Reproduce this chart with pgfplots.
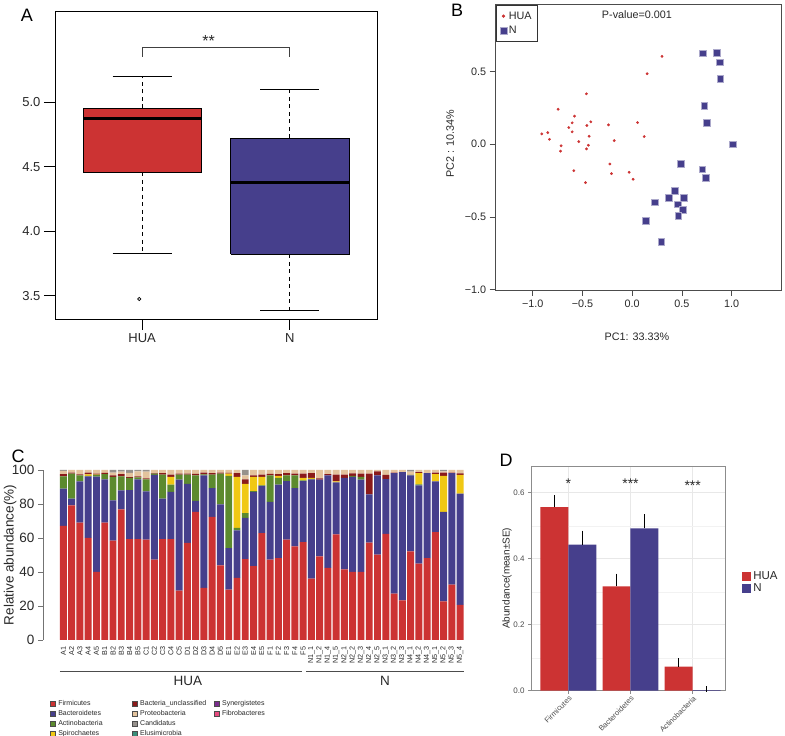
\documentclass[border=0pt]{standalone}
\usepackage{pgfplots}
\pgfplotsset{compat=1.18}
\usepackage{pgfplotstable}
\usepackage{fontspec}
\setmainfont{Liberation Sans}
\definecolor{cred}{RGB}{204,51,51}
\definecolor{cblue}{RGB}{70,63,140}
\definecolor{cgreen}{RGB}{92,138,46}
\definecolor{cyellow}{RGB}{240,200,20}
\definecolor{cdred}{RGB}{139,26,26}
\definecolor{ctan}{RGB}{227,195,157}
\definecolor{cgray}{RGB}{150,145,140}
\definecolor{cteal}{RGB}{58,143,122}
\definecolor{cpurple}{RGB}{123,45,142}
\definecolor{cpink}{RGB}{232,74,127}
\definecolor{txt}{RGB}{40,40,40}

\pgfplotstableread{
i F B A S U P C E Y Fi
0 67.1 21.9 7.3 0 1.2 2.0 0.5 0 0 0
1 79.2 3.9 14.7 0 0.7 1.5 0 0 0 0
2 69.0 24.3 3.6 0 0.5 2.6 0 0 0 0
3 60.0 36.3 0.3 0.8 1.0 1.6 0 0 0 0
4 40.0 56.1 1.0 0.2 0.5 2.2 0 0 0 0
5 69.0 25.5 3.0 0 0.8 1.7 0 0 0 0
6 58.4 23.8 13.7 0 1.0 1.6 1.5 0 0 0
7 76.9 11.1 8.3 0 1.2 1.5 1.0 0 0 0
8 59.4 28.8 7.1 0 0.5 2.5 1.7 0 0 0
9 59.4 35.1 1.2 0 0.5 3.0 0.8 0 0 0
10 59.0 28.4 7.1 0 0.5 4.0 1.0 0 0 0
11 47.3 49.9 0.6 0 0.3 1.9 0 0 0 0
12 59.4 23.7 14.2 0 0.8 1.9 0 0 0 0
13 59.4 27.7 4.3 4.5 1.4 2.7 0 0 0 0
14 29.0 65.3 3.0 0 0.5 2.2 0 0 0 0
15 57.1 34.8 5.4 0 0.5 2.2 0 0 0 0
16 75.3 6.5 15.1 0 0.8 2.3 0 0 0 0
17 30.6 66.3 0.5 0 1.1 1.5 0 0 0 0
18 72.4 17.0 7.9 0 0.9 1.8 0 0 0 0
19 43.9 35.9 18.0 0 0.7 1.5 0 0 0 0
20 29.6 24.5 42.4 1.3 0.5 1.7 0 0 0 0
21 36.5 28.0 1.4 30.0 2.3 1.8 0 0 0 0
22 47.5 24.4 2.8 17.2 2.6 2.4 3.1 0 0 0
23 43.5 43.6 0.5 8.3 1.0 3.1 0 0 0 0
24 62.9 27.7 0.4 4.9 1.4 2.7 0 0 0 0
25 47.3 33.9 15.7 0 0.8 2.3 0 0 0 0
26 48.2 43.2 3.9 1.2 1.0 2.5 0 0 0 0
27 59.0 34.5 3.4 0 1.3 1.8 0 0 0 0
28 55.1 34.3 7.5 0 1.0 2.1 0 0 0 0
29 57.6 35.9 0.4 1.4 2.5 2.2 0 0 0 0
30 36.1 58.4 0.3 0.5 2.9 1.8 0 0 0 0
31 49.2 45.1 0 0 0.7 5.0 0 0 0 0
32 42.4 54.5 0 0 0.6 2.5 0 0 0 0
33 62.2 30.5 0 0.6 4.0 2.7 0 0 0 0
34 41.6 53.7 0 0 2.0 2.7 0 0 0 0
35 40.0 55.9 0.6 0 1.5 2.0 0 0 0 0
36 40.0 54.3 1.6 0 1.9 2.2 0 0 0 0
37 57.3 28.4 0 0 12.1 2.2 0 0 0 0
38 50.2 46.7 0 0 2.3 0.8 0 0 0 0
39 62.4 32.3 0 0 2.4 2.9 0 0 0 0
40 27.3 70.9 0 0 0.3 1.5 0 0 0 0
41 23.3 75.5 0 0 0 1.2 0 0 0 0
42 52.2 44.7 0.3 0 0 1.8 1.0 0 0 0
43 44.9 46.1 0.6 6.6 0.6 1.2 0 0 0 0
44 48.2 50.0 0 0 0 1.8 0 0 0 0
45 63.5 29.8 0 4.2 1.0 1.5 0 0 0 0
46 22.7 52.6 0 21.2 1.9 0.8 0.8 0 0 0
47 32.5 65.7 0 0 0.3 1.5 0 0 0 0
48 20.6 65.5 0 11.0 0.9 2.0 0 0 0 0
}\abund

\begin{document}
\begin{tikzpicture}
\useasboundingbox (0pt,0pt) rectangle (785pt,736pt);

% ---------------- Panel A ----------------
\begin{axis}[at={(55pt,417pt)}, anchor=south west, scale only axis,
  width=322pt, height=308pt,
  xmin=0.41, xmax=2.59, ymin=3.32, ymax=5.705,
  xtick={1,2}, xticklabels={HUA,N},
  ytick={3.5,4,4.5,5}, yticklabels={3.5,4.0,4.5,5.0},
  tick pos=left, tick align=outside, major tick length=11pt,
  tick style={black, line width=0.8pt},
  axis line style={black, line width=0.8pt},
  tick label style={font=\fontsize{13}{15}\selectfont, text=txt},
  /pgf/number format/assume math mode=true,
  clip=false]
% whiskers (dashed)
\addplot[black, line width=0.8pt, dash pattern=on 4pt off 3.5pt] coordinates {(1,4.95) (1,5.2)};
\addplot[black, line width=0.8pt, dash pattern=on 4pt off 3.5pt] coordinates {(1,4.455) (1,3.83)};
\addplot[black, line width=0.8pt, dash pattern=on 4pt off 3.5pt] coordinates {(2,4.72) (2,5.10)};
\addplot[black, line width=0.8pt, dash pattern=on 4pt off 3.5pt] coordinates {(2,3.82) (2,3.39)};
% caps
\addplot[black, line width=0.8pt] coordinates {(0.8,5.2) (1.2,5.2)};
\addplot[black, line width=0.8pt] coordinates {(0.8,3.83) (1.2,3.83)};
\addplot[black, line width=0.8pt] coordinates {(1.8,5.10) (2.2,5.10)};
\addplot[black, line width=0.8pt] coordinates {(1.8,3.39) (2.2,3.39)};
% boxes (quartiles)
\addplot[fill=cred, draw=black, line width=0.8pt, line join=miter] coordinates {(0.6,4.455) (1.4,4.455) (1.4,4.95) (0.6,4.95) (0.6,4.455)};
\addplot[fill=cblue, draw=black, line width=0.8pt, line join=miter] coordinates {(1.6,3.82) (2.4,3.82) (2.4,4.72) (1.6,4.72) (1.6,3.82)};
% medians
\addplot[black, line width=3pt] coordinates {(0.6,4.87) (1.4,4.87)};
\addplot[black, line width=3pt] coordinates {(1.6,4.38) (2.4,4.38)};
% outlier
\addplot[only marks, mark=o, mark size=1.6pt, mark options={black, line width=0.7pt}] coordinates {(0.98,3.475)};
% significance bracket
\addplot[black!75, line width=0.8pt] coordinates {(1,5.35) (1,5.42) (2,5.42) (2,5.35)};
\node[font=\fontsize{16}{18}\selectfont, text=txt] at (axis cs:1.45,5.47) {**};
\end{axis}

% ---------------- Panel B ----------------
\begin{axis}[at={(495.7pt,446pt)}, anchor=south west, scale only axis,
  width=285.3pt, height=285.3pt,
  xmin=-1.373, xmax=1.497, ymin=-1.003, ymax=0.96,
  xtick={-1,-0.5,0,0.5,1}, xticklabels={−1.0,−0.5,0.0,0.5,1.0},
  ytick={-1,-0.5,0,0.5}, yticklabels={−1.0,−0.5,0.0,0.5},
  tick pos=left, tick align=outside, major tick length=6pt,
  tick style={black!70, line width=0.6pt},
  axis line style={black!70, line width=0.8pt},
  tick label style={font=\fontsize{10.8}{12}\selectfont, text=txt},
  /pgf/number format/assume math mode=true,
  xlabel={PC1: 33.33\%}, ylabel={PC2 :  10.34\%},
  label style={font=\fontsize{10.8}{12}\selectfont, text=txt},
  xlabel style={at={(axis description cs:0.495,-0.165)}, anchor=center},
  ylabel style={at={(axis description cs:-0.16,0.512)}, anchor=center},
  legend style={at={(axis description cs:0,1)}, anchor=north west, draw=black!80,
    line width=0.8pt, font=\fontsize{10.8}{12}\selectfont, text=txt,
    inner xsep=4pt, inner ysep=4.5pt, row sep=1.5pt, cells={anchor=west}},
  legend cell align=left]
\addplot[only marks, mark=*, mark size=1.2pt, color=cred] coordinates {
(0.30,0.605) (0.151,0.485) (-0.46,0.347) (-0.745,0.241) (-0.58,0.193)
(-0.604,0.147) (-0.638,0.115) (-0.416,0.154) (-0.456,0.129) (-0.604,0.085)
(-0.909,0.071) (-0.849,0.080) (-0.832,0.034) (-0.433,0.055) (-0.537,0.018)
(-0.44,-0.007) (-0.46,-0.032) (-0.715,-0.011) (-0.721,-0.048) (-0.238,0.133)
(-0.181,0.025) (0.054,0.149) (0.121,0.053) (-0.225,-0.136) (-0.208,-0.202)
(-0.03,-0.193) (0.01,-0.241) (-0.587,-0.182) (-0.47,-0.264)};
\addlegendentry{HUA}
\addplot[only marks, mark=square*, mark size=3.4pt, mark options={fill=cblue, draw=cblue!45, line width=0.6pt}] coordinates {
(0.711,0.625) (0.849,0.628) (0.883,0.563) (0.886,0.451) (0.725,0.267)
(0.748,0.147) (1.01,0.0) (0.487,-0.133) (0.705,-0.172) (0.742,-0.23)
(0.426,-0.322) (0.369,-0.368) (0.523,-0.368) (0.456,-0.414) (0.510,-0.451)
(0.463,-0.494) (0.225,-0.4) (0.134,-0.529) (0.292,-0.674)};
\addlegendentry{N}
\node[font=\fontsize{10.8}{12}\selectfont, text=txt] at (axis description cs:0.495,0.966) {P-value=0.001};
\end{axis}

% ---------------- Panel C ----------------
\begin{axis}[at={(43pt,96pt)}, anchor=south west, scale only axis,
  width=421.3pt, height=170pt,
  ybar stacked, bar width=0.84,
  xmin=-2.47, xmax=48.5, ymin=0, ymax=100,
  axis y line*=left, axis x line*=bottom,
  axis line style={-}, x axis line style={draw=none},
  y axis line style={black!55, line width=0.8pt},
  ytick={0,20,40,60,80,100},
  xtick={0,...,48},
  xticklabels={A1,A2,A3,A4,A5,B1,B2,B3,B4,B5,C1,C2,C3,C4,C5,D1,D2,D3,D4,D5,E1,E2,E3,E4,E5,F1,F2,F3,F4,F5,N1\_1,N1\_2,N1\_4,N1\_5,N2\_1,N2\_2,N2\_3,N2\_4,N2\_5,N3\_1,N3\_2,N3\_3,N4\_1,N4\_2,N4\_3,N5\_1,N5\_2,N5\_3,N5\_4},
  xtick style={draw=none},
  ytick style={black!55, line width=0.8pt},
  tick align=outside, major tick length=5pt,
  yticklabel style={font=\fontsize{13.5}{15}\selectfont, text=txt},
  xticklabel style={font=\fontsize{7.2}{8}\selectfont, text=txt, rotate=90, anchor=east, inner xsep=1.5pt, inner ysep=0.2pt},
  /pgf/number format/assume math mode=true,
  ylabel={Relative abundance(\%)},
  ylabel style={font=\fontsize{13.5}{15}\selectfont, text=txt, at={(axis description cs:-0.078,0.5)}, anchor=center},
  clip=false,
  legend columns=3,
  legend style={at={(axis description cs:0.01,-0.33)}, anchor=north west, draw=none,
    font=\fontsize{7}{8}\selectfont, text=txt, row sep=-0.6pt,
    /tikz/every even column/.append style={text width=70pt, column sep=2pt},
    /tikz/every odd column/.append style={column sep=1pt}},
  legend image code/.code={\draw[#1, draw=black!70, line width=0.3pt] (0pt,-2.2pt) rectangle (4.6pt,2.2pt);}]
\addplot[fill=cred, draw=none, forget plot] table[x=i, y=F] {\abund};
\addplot[fill=cblue, draw=none, forget plot] table[x=i, y=B] {\abund};
\addplot[fill=cgreen, draw=none, forget plot] table[x=i, y=A] {\abund};
\addplot[fill=cyellow, draw=none, forget plot] table[x=i, y=S] {\abund};
\addplot[fill=cdred, draw=none, forget plot] table[x=i, y=U] {\abund};
\addplot[fill=ctan, draw=none, forget plot] table[x=i, y=P] {\abund};
\addplot[fill=cgray, draw=none, forget plot] table[x=i, y=C] {\abund};
\addplot[fill=cteal, draw=none, forget plot] table[x=i, y=E] {\abund};
\addplot[fill=cpurple, draw=none, forget plot] table[x=i, y=Y] {\abund};
\addplot[fill=cpink, draw=none, forget plot] table[x=i, y=Fi] {\abund};
\addlegendimage{fill=cred}\addlegendentry{Firmicutes}
\addlegendimage{fill=cdred}\addlegendentry{Bacteria\_unclassified}
\addlegendimage{fill=cpurple}\addlegendentry{Synergistetes}
\addlegendimage{fill=cblue}\addlegendentry{Bacteroidetes}
\addlegendimage{fill=ctan}\addlegendentry{Proteobacteria}
\addlegendimage{fill=cpink}\addlegendentry{Fibrobacteres}
\addlegendimage{fill=cgreen}\addlegendentry{Actinobacteria}
\addlegendimage{fill=cgray}\addlegendentry{Candidatus}
\addlegendimage{empty legend}\addlegendentry{}
\addlegendimage{fill=cyellow}\addlegendentry{Spirochaetes}
\addlegendimage{fill=cteal}\addlegendentry{Elusimicrobia}
\draw[black!70, line width=0.8pt] (axis cs:-0.42,-18.6) -- (axis cs:28.83,-18.6);
\draw[black!70, line width=0.8pt] (axis cs:29.35,-18.6) -- (axis cs:48.42,-18.6);
\node[font=\fontsize{13.5}{15}\selectfont, text=txt] at (axis cs:15.07,-24.3) {HUA};
\node[font=\fontsize{13.5}{15}\selectfont, text=txt] at (axis cs:38.9,-24.3) {N};
\end{axis}

% ---------------- Panel D ----------------
\begin{axis}[at={(531pt,45.3pt)}, anchor=south west, scale only axis,
  width=194pt, height=224.7pt,
  ybar=0pt, bar width=0.45,
  xmin=0.4, xmax=3.52, ymin=0, ymax=0.681,
  xtick={1,2,3}, xticklabels={Firmicutes,Bacteroidetes,Actinobacteria},
  ytick={0,0.2,0.4,0.6}, yticklabels={0.0,0.2,0.4,0.6},
  minor ytick={0.1,0.3,0.5},
  xmajorgrids, ymajorgrids, yminorgrids,
  major grid style={black!9, line width=0.6pt},
  minor grid style={black!5, line width=0.4pt},
  axis line style={black!45, line width=0.7pt},
  tick pos=left, tick align=outside, major tick length=3pt, minor tick length=0pt,
  tick style={black!45, line width=0.6pt},
  tick label style={font=\fontsize{7.5}{8}\selectfont, text=black!70},
  yticklabel style={font=\fontsize{8}{9}\selectfont},
  xticklabel style={rotate=45, anchor=north east, inner sep=1pt},
  /pgf/number format/assume math mode=true,
  ylabel={Abundance(mean±SE)},
  ylabel style={font=\fontsize{10}{11}\selectfont, text=txt, at={(axis description cs:-0.124,0.5)}, anchor=center},
  clip=false,
  legend style={at={(axis description cs:1.088,0.54)}, anchor=north west, draw=none,
    font=\fontsize{11.5}{9}\selectfont, text=txt, inner sep=0pt, row sep=-1.5pt,
    /tikz/every odd column/.append style={column sep=0pt},
    cells={anchor=west, inner sep=0.5pt}},
  legend image code/.code={\fill[#1] (0pt,-4.6pt) rectangle (9pt,4.6pt);}]
\addplot[fill=cred, draw=none, error bars/.cd, y dir=plus, y explicit,
  error bar style={black, line width=0.8pt},
  error mark options={black, line width=0.8pt, mark size=3pt}]
  coordinates {(1,0.556) +- (0,0.027) (2,0.316) +- (0,0.03) (3,0.073) +- (0,0.017)};
\addlegendentry{HUA}
\addplot[fill=cblue, draw=none, error bars/.cd, y dir=plus, y explicit,
  error bar style={black, line width=0.8pt},
  error mark options={black, line width=0.8pt, mark size=3pt}]
  coordinates {(1,0.443) +- (0,0.033) (2,0.492) +- (0,0.033) (3,0.002) +- (0,0.003)};
\addlegendentry{N}
\node[font=\fontsize{14}{15}\selectfont, text=txt] at (axis cs:1,0.626) {*};
\node[font=\fontsize{14}{15}\selectfont, text=txt] at (axis cs:2,0.626) {***};
\node[font=\fontsize{14}{15}\selectfont, text=txt] at (axis cs:3,0.622) {***};
\end{axis}

% panel letters
\node[font=\fontsize{18}{20}\selectfont] at (27pt,721pt) {A};
\node[font=\fontsize{18}{20}\selectfont] at (457pt,726pt) {B};
\node[font=\fontsize{18}{20}\selectfont] at (18pt,280pt) {C};
\node[font=\fontsize{18}{20}\selectfont] at (506pt,276pt) {D};
\end{tikzpicture}
\end{document}
